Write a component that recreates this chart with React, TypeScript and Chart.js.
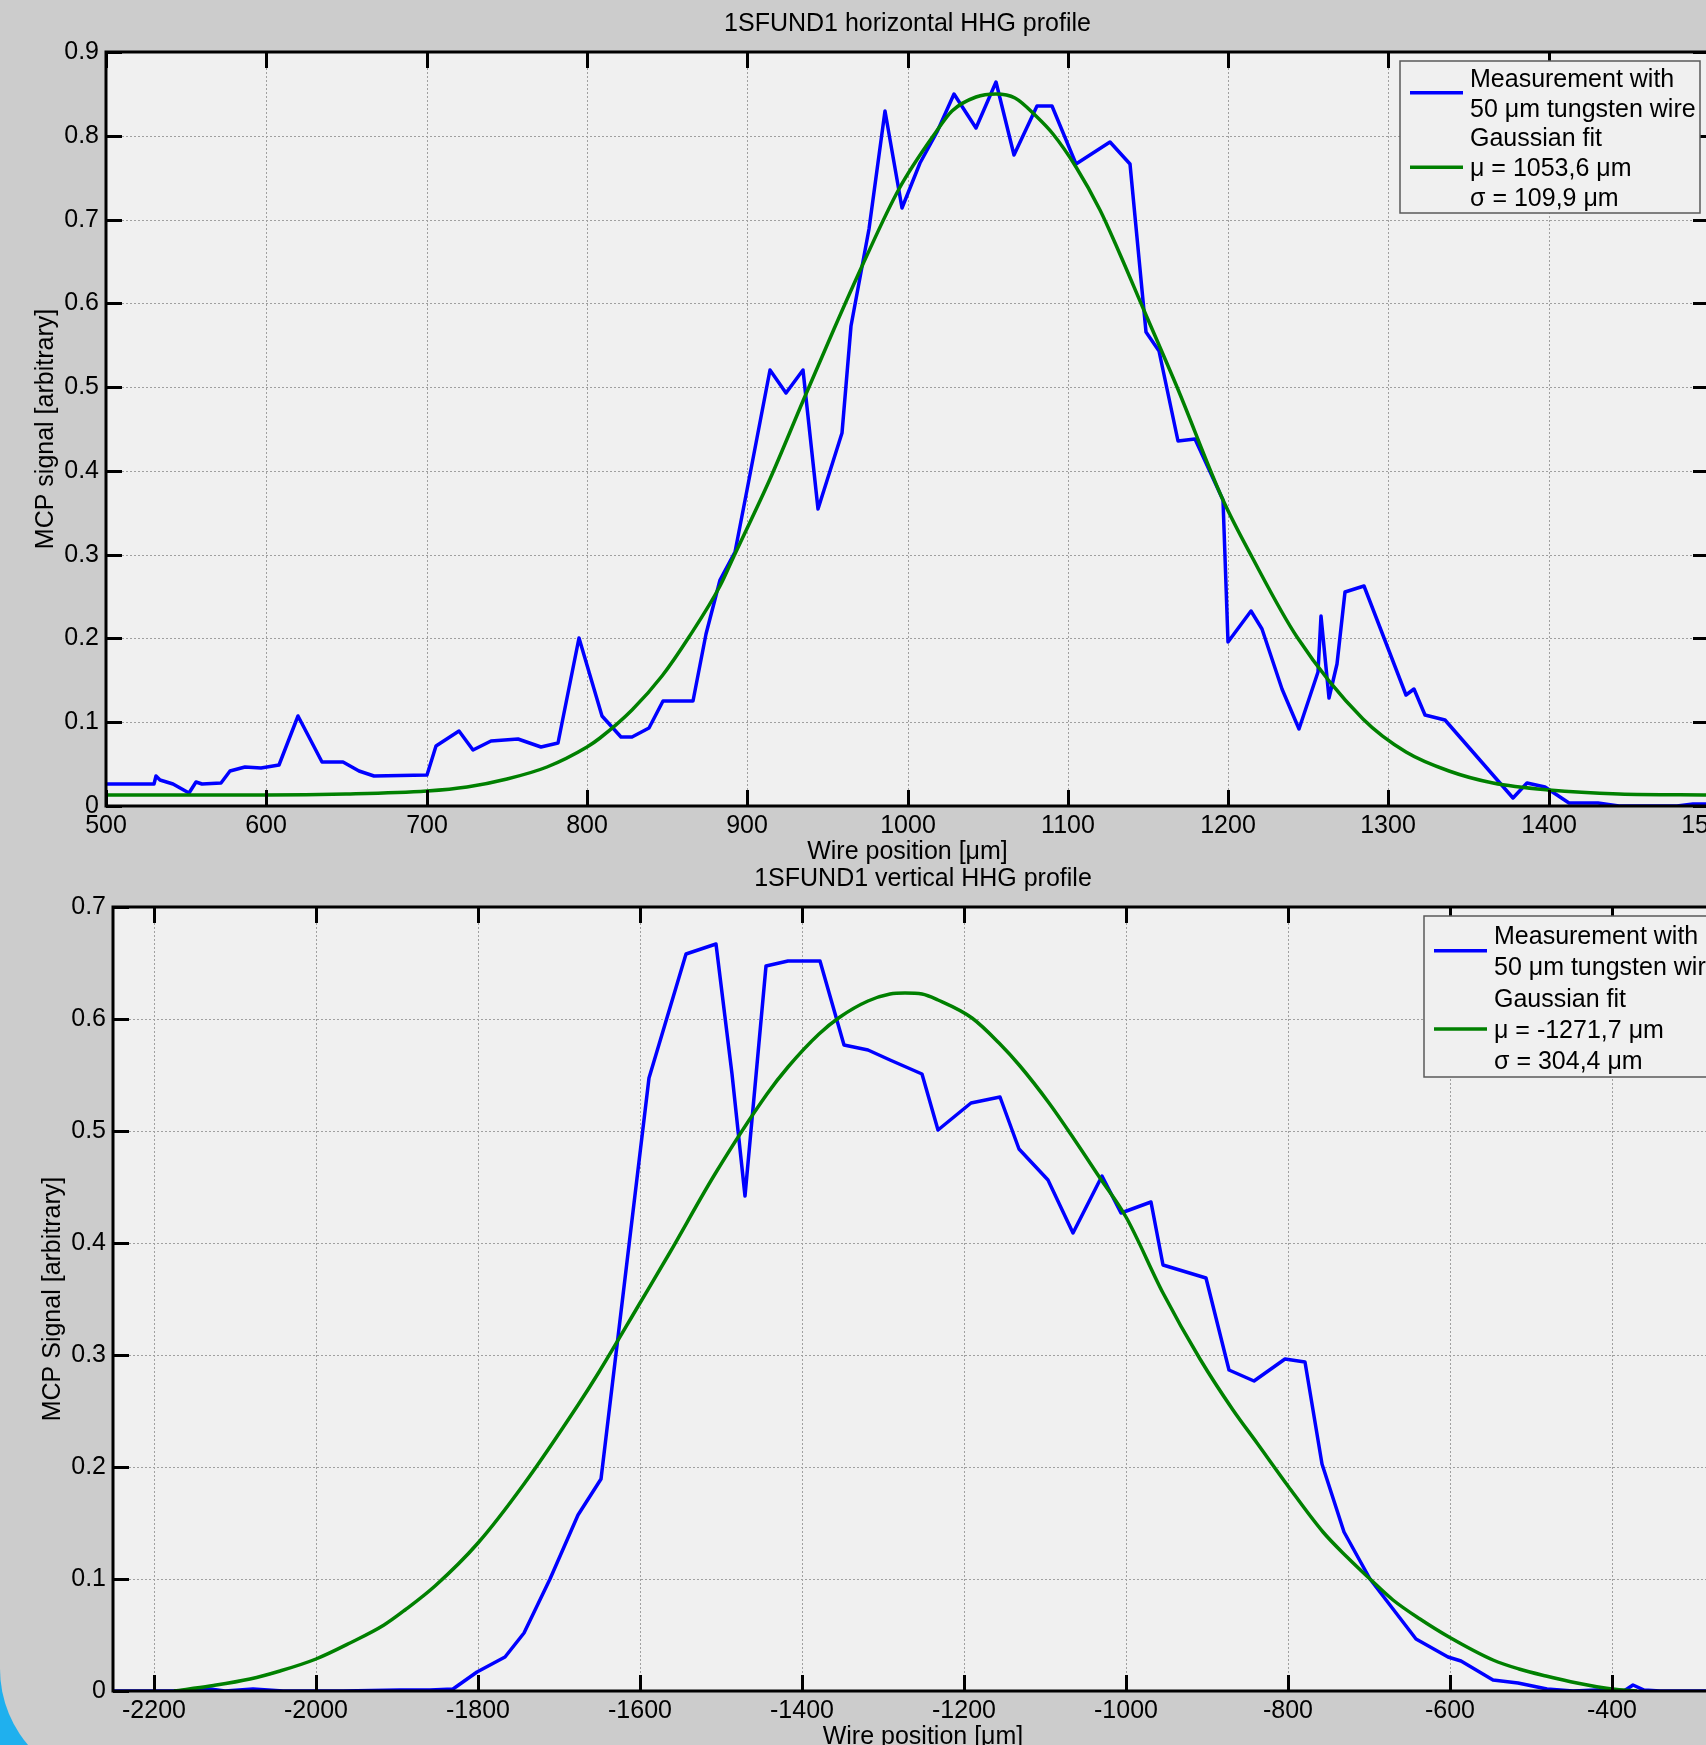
import React, { useEffect, useRef } from "react";
import { Chart, registerables } from "chart.js";

Chart.register(...registerables);

const FONT_FAMILY = '"Liberation Sans", Arial, Helvetica, sans-serif';
const FONT_SIZE = 25;
const FIG_BG = "#cccccc";
const PLOT_BG = "#f0f0f0";
const OUTER_BG = "#1fb0ee";
const BLUE = "#0000ff";
const GREEN = "#008000";
const TICK_LEN = 16;
const LINE_W = 3.5;

// ---------- Top panel: horizontal profile ----------
const topXTicks = [500, 600, 700, 800, 900, 1000, 1100, 1200, 1300, 1400, 1500];
const topYTicks = [0, 0.1, 0.2, 0.3, 0.4, 0.5, 0.6, 0.7, 0.8, 0.9];

const topMeasX = [
  500, 530, 531, 533.5, 542, 551.5, 556, 560, 572, 577.5, 587, 597, 608, 620, 634.7, 648, 657.6, 667, 700, 706,
  720, 729, 740, 757, 771.5, 782, 795, 809.5, 821, 828, 839, 847.4, 866, 874.4, 883, 892.5, 899.8, 914.3, 924,
  934.7, 944, 959, 964.6, 976.2, 986, 996.8, 1007.8, 1018.2, 1029, 1043, 1055, 1066.6, 1081, 1090.2, 1105.4,
  1126.5, 1138.5, 1148.7, 1157.2, 1168.6, 1179.4, 1197, 1200.2, 1214, 1221.4, 1233.4, 1244, 1256.3, 1257.7,
  1263, 1267.7, 1272.9, 1285, 1311, 1316, 1322.7, 1335.2, 1377.8, 1386.7, 1397.9, 1412.7, 1430.7, 1444, 1480,
  1490, 1500,
];
const topMeasY = [
  0.026, 0.026, 0.036, 0.031, 0.026, 0.015, 0.029, 0.026, 0.027, 0.042, 0.046, 0.045, 0.049, 0.107, 0.052, 0.053,
  0.042, 0.036, 0.037, 0.072, 0.09, 0.067, 0.078, 0.08, 0.07, 0.075, 0.2, 0.107, 0.082, 0.082, 0.093, 0.125, 0.125,
  0.205, 0.27, 0.303, 0.377, 0.52, 0.493, 0.52, 0.355, 0.445, 0.573, 0.689, 0.83, 0.714, 0.767, 0.805, 0.85, 0.809,
  0.864, 0.777, 0.836, 0.836, 0.766, 0.792, 0.766, 0.566, 0.543, 0.436, 0.438, 0.365, 0.196, 0.233, 0.211, 0.14,
  0.092, 0.16, 0.227, 0.129, 0.169, 0.255, 0.263, 0.132, 0.14, 0.109, 0.103, 0.009, 0.027, 0.023, 0.003, 0.003, 0,
  0, 0.002, 0.002,
];

const topFitX = [
  500, 550, 600, 650, 700, 725, 750, 775, 800, 808, 828, 847, 864, 883, 892, 914, 935, 954, 972, 995, 1018, 1028,
  1043, 1055, 1067, 1080, 1091, 1105, 1120, 1132, 1147, 1168, 1197, 1215, 1243, 1284, 1311, 1338, 1365, 1400, 1444,
  1500,
];
const topFitY = [
  0.013, 0.013, 0.013, 0.014, 0.018, 0.023, 0.032, 0.047, 0.07, 0.081, 0.115, 0.155, 0.202, 0.263, 0.298, 0.39,
  0.483, 0.569, 0.647, 0.736, 0.805, 0.829, 0.846, 0.85, 0.845, 0.824, 0.802, 0.763, 0.711, 0.661, 0.594, 0.5,
  0.365, 0.297, 0.202, 0.104, 0.065, 0.042, 0.027, 0.019, 0.014, 0.013,
];

// ---------- Bottom panel: vertical profile ----------
const bottomXTicks = [-2200, -2000, -1800, -1600, -1400, -1200, -1000, -800, -600, -400];
const bottomYTicks = [0, 0.1, 0.2, 0.3, 0.4, 0.5, 0.6, 0.7];

const bottomMeasX = [
  -2250, -2160, -2130, -2112, -2077, -2040, -1966, -1896, -1859, -1830, -1801, -1766, -1742, -1711, -1676, -1648,
  -1588.5, -1542, -1505, -1485.4, -1470, -1444, -1416.5, -1377, -1347, -1318, -1291, -1251.5, -1231, -1191,
  -1154.6, -1132, -1096, -1064.7, -1029, -1005, -969, -953.5, -901, -872, -841.6, -803, -778, -758, -730, -698,
  -670, -641.6, -601.6, -586.4, -546, -515, -480, -447, -418, -400, -385, -373, -360, -340, -250,
];
const bottomMeasY = [
  0, 0, 0.002, 0, 0.0014, 0, 0, 0.001, 0.001, 0.002, 0.017, 0.03, 0.052, 0.1, 0.157, 0.189, 0.547, 0.658, 0.667,
  0.551, 0.442, 0.647, 0.652, 0.652, 0.577, 0.572, 0.563, 0.551, 0.501, 0.525, 0.53, 0.484, 0.456, 0.409, 0.46,
  0.427, 0.437, 0.38, 0.369, 0.287, 0.277, 0.296, 0.294, 0.203, 0.142, 0.1, 0.073, 0.046, 0.03, 0.027, 0.01, 0.007,
  0.002, 0, 0.001, 0, 0, 0.005, 0.001, 0, 0,
];

const bottomFitX = [
  -2175, -2130, -2081, -2044, -2000, -1957.5, -1916, -1890, -1853, -1800, -1742, -1676, -1649.5, -1600, -1563,
  -1507, -1443, -1416.5, -1379, -1353, -1317.5, -1291, -1271.7, -1251.5, -1231, -1190, -1155, -1130, -1095, -1064,
  -1031, -1000, -953.5, -908, -867, -838, -800, -756, -727, -698, -670, -637, -601, -546, -514, -481, -443, -400,
  -368,
];
const bottomFitY = [
  0, 0.0046, 0.011, 0.018, 0.029, 0.043, 0.059, 0.072, 0.094, 0.132, 0.185, 0.255, 0.285, 0.346, 0.39, 0.462,
  0.533, 0.557, 0.587, 0.602, 0.616, 0.622, 0.623, 0.622, 0.617, 0.601, 0.578, 0.558, 0.525, 0.493, 0.458, 0.423,
  0.355, 0.296, 0.251, 0.221, 0.183, 0.142, 0.12, 0.1, 0.081, 0.064, 0.048, 0.028, 0.02, 0.013, 0.007, 0.002, 0,
];

const topLegendLines = ["Measurement with", "50 \u03bcm tungsten wire", "Gaussian fit", "\u03bc = 1053,6 \u03bcm", "\u03c3 = 109,9 \u03bcm"];
const bottomLegendLines = ["Measurement with", "50 \u03bcm tungsten wire", "Gaussian fit", "\u03bc = -1271,7 \u03bcm", "\u03c3 = 304,4 \u03bcm"];

type Area = { left: number; top: number; right: number; bottom: number };
type LegendSpec = { width: number; height: number; firstBaseline: number; gap: number; lines: string[] };
type Panel = {
  canvasTop: number;
  width: number;
  height: number;
  area: Area;
  xMin: number;
  xMax: number;
  yMin: number;
  yMax: number;
  xTicks: number[];
  yTicks: number[];
  measX: number[];
  measY: number[];
  fitX: number[];
  fitY: number[];
  title: string;
  xLabel: string;
  yLabel: string;
  yLabelX: number;
  legend: LegendSpec;
};

const panels: Panel[] = [
  {
    canvasTop: 0,
    width: 1760,
    height: 880,
    area: { left: 106, top: 52, right: 1709, bottom: 806 },
    xMin: 500,
    xMax: 1500,
    yMin: 0,
    yMax: 0.9,
    xTicks: topXTicks,
    yTicks: topYTicks,
    measX: topMeasX,
    measY: topMeasY,
    fitX: topFitX,
    fitY: topFitY,
    title: "1SFUND1 horizontal HHG profile",
    xLabel: "Wire position [\u03bcm]",
    yLabel: "MCP signal [arbitrary]",
    yLabelX: 46,
    legend: { width: 300, height: 152, firstBaseline: 25.7, gap: 29.8, lines: topLegendLines },
  },
  {
    canvasTop: 860,
    width: 1790,
    height: 960,
    area: { left: 113, top: 47, right: 1733, bottom: 831 },
    xMin: -2250,
    xMax: -250,
    yMin: 0,
    yMax: 0.7,
    xTicks: bottomXTicks,
    yTicks: bottomYTicks,
    measX: bottomMeasX,
    measY: bottomMeasY,
    fitX: bottomFitX,
    fitY: bottomFitY,
    title: "1SFUND1 vertical HHG profile",
    xLabel: "Wire position [\u03bcm]",
    yLabel: "MCP Signal [arbitrary]",
    yLabelX: 53,
    legend: { width: 300, height: 161, firstBaseline: 28, gap: 31.3, lines: bottomLegendLines },
  },
];

function font(size: number) {
  return `${size}px ${FONT_FAMILY}`;
}

function panelPlugin(p: Panel) {
  return {
    id: "matlabPanel",
    beforeDraw(chart: any) {
      const { ctx, chartArea: a } = chart;
      ctx.save();
      ctx.fillStyle = PLOT_BG;
      ctx.fillRect(a.left, a.top, a.right - a.left, a.bottom - a.top);
      ctx.restore();
    },
    afterDatasetsDraw(chart: any) {
      const { ctx, chartArea: a, scales } = chart;
      ctx.save();
      ctx.strokeStyle = "#000";
      ctx.lineWidth = 3;
      ctx.lineCap = "butt";
      ctx.beginPath();
      for (const v of p.xTicks) {
        const px = Math.round(scales.x.getPixelForValue(v)) + 0.5;
        ctx.moveTo(px, a.bottom);
        ctx.lineTo(px, a.bottom - TICK_LEN);
        ctx.moveTo(px, a.top);
        ctx.lineTo(px, a.top + TICK_LEN);
      }
      for (const v of p.yTicks) {
        const py = Math.round(scales.y.getPixelForValue(v)) + 0.5;
        ctx.moveTo(a.left, py);
        ctx.lineTo(a.left + TICK_LEN, py);
        ctx.moveTo(a.right, py);
        ctx.lineTo(a.right - TICK_LEN, py);
      }
      ctx.stroke();
      ctx.strokeRect(a.left, a.top, a.right - a.left, a.bottom - a.top);

      // legend
      const L = p.legend;
      const bx = a.right - 309;
      const by = a.top + 9;
      ctx.fillStyle = PLOT_BG;
      ctx.fillRect(bx, by, L.width, L.height);
      ctx.strokeStyle = "#5a5a5a";
      ctx.lineWidth = 1.5;
      ctx.strokeRect(bx, by, L.width, L.height);
      const base = (i: number) => by + L.firstBaseline + i * L.gap;
      const capMid = 8.9;
      ctx.lineWidth = LINE_W;
      ctx.strokeStyle = BLUE;
      ctx.beginPath();
      const blueY = (base(0) + base(1)) / 2 - capMid;
      ctx.moveTo(bx + 10, blueY);
      ctx.lineTo(bx + 63, blueY);
      ctx.stroke();
      ctx.strokeStyle = GREEN;
      ctx.beginPath();
      const greenY = base(3) - capMid;
      ctx.moveTo(bx + 10, greenY);
      ctx.lineTo(bx + 63, greenY);
      ctx.stroke();
      ctx.fillStyle = "#000";
      ctx.font = font(FONT_SIZE);
      ctx.textAlign = "left";
      ctx.textBaseline = "alphabetic";
      L.lines.forEach((t, i) => ctx.fillText(t, bx + 70, base(i)));
      ctx.restore();
    },
    afterDraw(chart: any) {
      const { ctx, chartArea: a } = chart;
      ctx.save();
      ctx.fillStyle = "#000";
      ctx.font = font(FONT_SIZE);
      ctx.textAlign = "center";
      ctx.textBaseline = "middle";
      const cx = (a.left + a.right) / 2;
      ctx.fillText(p.title, cx, a.top - 28);
      ctx.fillText(p.xLabel, cx, a.bottom + 46);
      ctx.translate(p.yLabelX, (a.top + a.bottom) / 2);
      ctx.rotate(-Math.PI / 2);
      ctx.fillText(p.yLabel, 0, 0);
      ctx.restore();
    },
  };
}

function buildChart(canvas: HTMLCanvasElement, p: Panel) {
  const xy = (xs: number[], ys: number[]) => xs.map((x, i) => ({ x, y: ys[i] }));
  const gridOpts = { color: "#a0a0a0", lineWidth: 1, drawTicks: false };
  const borderOpts = { display: false, dash: [2, 2] };
  return new Chart(canvas, {
    type: "line",
    data: {
      datasets: [
        {
          label: "Measurement with 50 \u03bcm tungsten wire",
          data: xy(p.measX, p.measY),
          borderColor: BLUE,
          borderWidth: LINE_W,
          pointRadius: 0,
          tension: 0,
          borderJoinStyle: "round",
          order: 1,
        },
        {
          label: "Gaussian fit",
          data: xy(p.fitX, p.fitY),
          borderColor: GREEN,
          borderWidth: LINE_W,
          pointRadius: 0,
          cubicInterpolationMode: "monotone",
          order: 0,
        },
      ],
    },
    options: {
      responsive: false,
      animation: false,
      devicePixelRatio: 1,
      events: [],
      layout: {
        padding: { left: 0, top: p.area.top, right: p.width - p.area.right, bottom: 0 },
      },
      plugins: { legend: { display: false }, tooltip: { enabled: false }, title: { display: false } },
      scales: {
        x: {
          type: "linear",
          min: p.xMin,
          max: p.xMax,
          alignToPixels: true,
          grid: gridOpts,
          border: borderOpts,
          afterBuildTicks: (scale: any) => {
            scale.ticks = p.xTicks.map((v) => ({ value: v }));
          },
          afterFit: (scale: any) => {
            scale.height = p.height - p.area.bottom;
          },
          ticks: {
            color: "#000",
            font: { family: FONT_FAMILY, size: FONT_SIZE },
            padding: 5,
            maxRotation: 0,
            autoSkip: false,
            callback: (v: any) => String(v),
          },
        },
        y: {
          type: "linear",
          min: p.yMin,
          max: p.yMax,
          alignToPixels: true,
          grid: gridOpts,
          border: borderOpts,
          afterBuildTicks: (scale: any) => {
            scale.ticks = p.yTicks.map((v) => ({ value: v }));
          },
          afterFit: (scale: any) => {
            scale.width = p.area.left;
          },
          ticks: {
            color: "#000",
            font: { family: FONT_FAMILY, size: FONT_SIZE },
            padding: 7,
            autoSkip: false,
            callback: (v: any) => String(v),
          },
        },
      },
    },
    plugins: [panelPlugin(p)],
  } as any);
}

function PanelCanvas({ p }: { p: Panel }) {
  const ref = useRef<HTMLCanvasElement | null>(null);
  useEffect(() => {
    if (!ref.current) return;
    const chart = buildChart(ref.current, p);
    return () => chart.destroy();
  }, [p]);
  return (
    <canvas
      ref={ref}
      width={p.width}
      height={p.height}
      style={{ position: "absolute", left: 0, top: p.canvasTop, width: p.width, height: p.height }}
    />
  );
}

export default function App() {
  return (
    <div
      style={{
        position: "absolute",
        left: 0,
        top: 0,
        width: 1706,
        height: 1745,
        overflow: "hidden",
        background: OUTER_BG,
      }}
    >
      <div
        style={{
          position: "absolute",
          left: 0,
          top: 0,
          width: 1706,
          height: 1786,
          background: FIG_BG,
          borderBottomLeftRadius: 117,
        }}
      />
      {panels.map((p, i) => (
        <PanelCanvas key={i} p={p} />
      ))}
    </div>
  );
}
